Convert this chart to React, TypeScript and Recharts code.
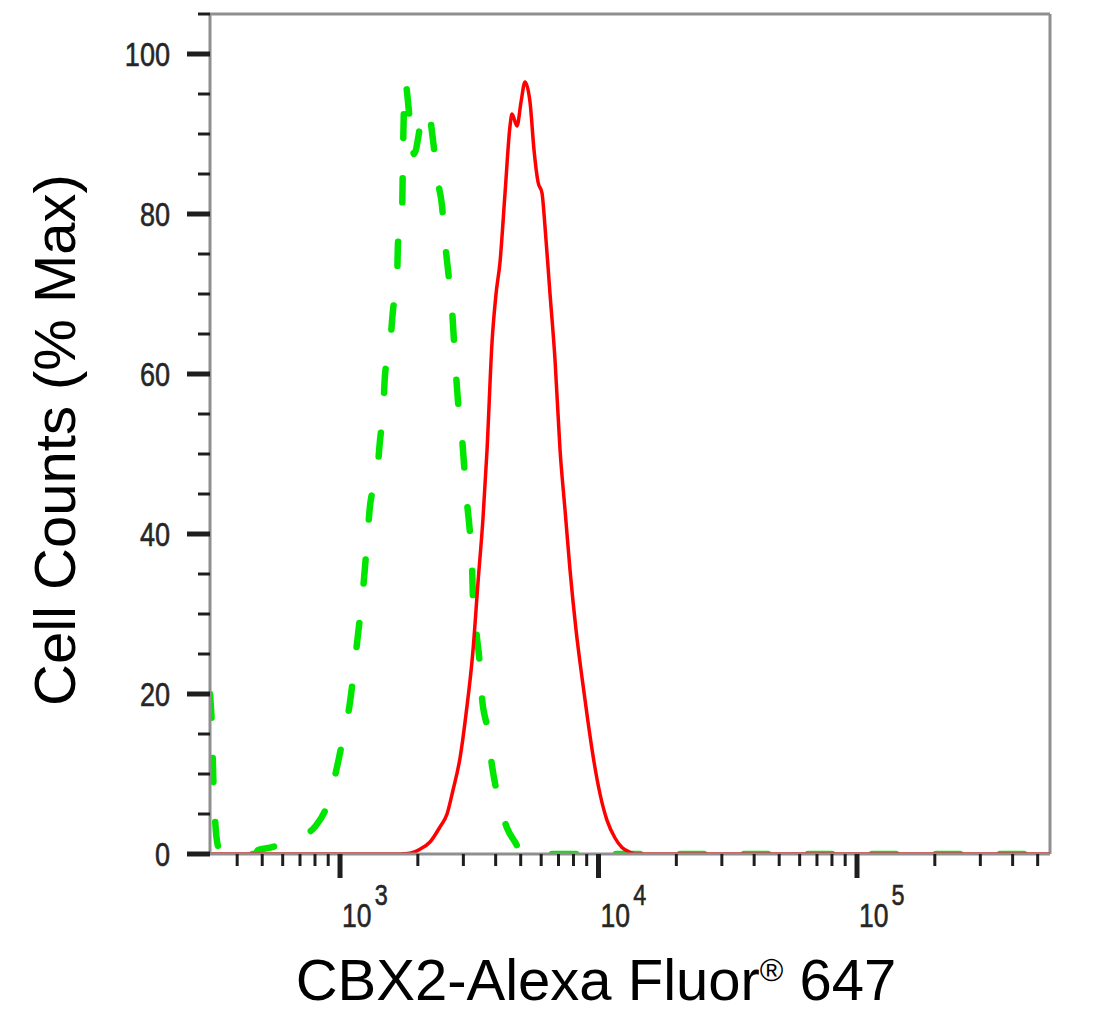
import { LineChart, Line, XAxis, YAxis, ReferenceLine } from 'recharts'

// isotype control (green dashed) – fluorescence intensity and % max
const isoIntensity = [
  314, 320, 323, 329, 337, 350, 469, 482, 536, 613,
  700, 800, 898, 974, 1027, 1093, 1123, 1174, 1227, 1272,
  1307, 1390, 1428, 1467, 1493, 1561, 1603, 1661, 1676, 1737,
  1753, 1784, 1866, 1933, 2076, 2189, 2290, 2373, 2481, 2548,
  2617, 2713, 2761, 2810, 2861, 2965, 3045, 3100, 3184, 3241,
  3270, 3388, 3480, 3542, 3704, 3873, 4050, 4426, 4753, 5105,
  558000,
]
const isoCounts = [
  20, 15, 10, 4, 1, 0, 0, 0.5, 0.8, 1.4,
  2.2, 3.4, 6.4, 10.9, 14.5, 19, 22, 27.5, 33, 39,
  43.6, 47.4, 51.75, 55.25, 59.9, 63.6, 68, 71.5, 76.4, 80,
  88, 96.5, 91.5, 87.5, 92, 93, 89.2, 84.6, 81, 76.5,
  73, 68, 64, 60, 56.5, 52, 47, 43.9, 40, 36,
  31.75, 27, 23.4, 19.5, 15.9, 11, 7.6, 3.25, 1.5, 0,
  0,
]

// CBX2 stained (red solid)
const cbx2Intensity = [
  314, 1428, 1707, 1866, 2039, 2229, 2437, 2594, 2736, 2912,
  3072, 3270, 3419, 3574, 3704, 3873, 4013, 4159, 4348, 4546,
  4628, 4838, 5014, 5195, 5432, 5629, 5834, 6046, 6209, 6492,
  6788, 7098, 7421, 7758, 8185, 8636, 9108, 9608, 10135, 10787,
  11583, 12327, 13244, 13972, 558000,
]
const cbx2Counts = [
  0, 0, 0, 0.1, 0.6, 1.5, 3.4, 5, 8, 12,
  17.5, 25.5, 34, 42, 50.5, 64, 70, 74, 82.6, 91,
  92.5, 91, 94, 96.5, 94, 88, 84, 82.6, 78.4, 70,
  61.75, 50.5, 43, 35.5, 28, 22, 16.5, 11.5, 7.5, 4.2,
  2, 0.8, 0.2, 0, 0,
]

const xMajorTicks = [1000, 10000, 100000]
const xMinorTicks = [
  400, 500, 600, 700, 800, 900,
  2000, 3000, 4000, 5000, 6000, 7000, 8000, 9000,
  20000, 30000, 40000, 50000, 60000, 70000, 80000, 90000,
  200000, 300000, 400000, 500000,
]
const yTicks = [0, 5, 10, 15, 20, 25, 30, 35, 40, 45, 50, 55, 60, 65, 70, 75, 80, 85, 90, 95, 100, 105]
const yLabelTicks = [0, 20, 40, 60, 80, 100]

const X_DOMAIN = [314, 558000]
const Y_DOMAIN = [0, 105]

const isoData = isoIntensity.map((x, i) => ({ x, y: isoCounts[i] }))
const cbx2Data = cbx2Intensity.map((x, i) => ({ x, y: cbx2Counts[i] }))
const xTicks = [...xMajorTicks, ...xMinorTicks].sort((a, b) => a - b)

const TICK_FONT = "'Liberation Sans', Arial, sans-serif"
const LABEL_FONT = "'Liberation Sans', Arial, Helvetica, sans-serif"
const AXIS_GRAY = '#8f8f8f'
const TICK_DARK = '#1e1e1e'
const TICK_TEXT = '#262626'

// narrow-looking tick numbers: squeeze regular Liberation Sans horizontally
function XTick(props: any) {
  const { x, y, payload } = props
  const v = payload.value
  if (xMajorTicks.includes(v)) {
    const exp = Math.round(Math.log10(v))
    return (
      <g>
        <line x1={x} x2={x} y1={y} y2={y + 24} stroke={TICK_DARK} strokeWidth={5} />
        <text
          transform={`translate(${x + 2} ${y + 73}) scale(0.78 1)`}
          x={0}
          y={0}
          fontFamily={TICK_FONT}
          fontSize={34}
          fill={TICK_TEXT}
          stroke={TICK_TEXT}
          strokeWidth={0.6}
        >
          10
          <tspan dx={4} dy={-22} fontSize={30}>{exp}</tspan>
        </text>
      </g>
    )
  }
  return <line x1={x} x2={x} y1={y} y2={y + 12} stroke={TICK_DARK} strokeWidth={3} />
}

function YTick(props: any) {
  const { x, y, payload } = props
  const v = payload.value
  if (yLabelTicks.includes(v)) {
    return (
      <g>
        <line x1={x - 23} x2={x} y1={y} y2={y} stroke={TICK_DARK} strokeWidth={5} />
        <text
          transform={`translate(${x - 40} ${y + 12}) scale(0.82 1)`}
          x={0}
          y={0}
          textAnchor="end"
          fontFamily={TICK_FONT}
          fontSize={33}
          fill={TICK_TEXT}
          stroke={TICK_TEXT}
          strokeWidth={0.6}
        >
          {v}
        </text>
      </g>
    )
  }
  return <line x1={x - 12} x2={x} y1={y} y2={y} stroke={TICK_DARK} strokeWidth={3} />
}

function YTitle(props: any) {
  const vb = props.viewBox || { x: 0, y: 0, width: 210, height: 840 }
  const cx = vb.x + 54
  const cy = vb.y + vb.height / 2 + 6
  return (
    <text
      x={cx}
      y={cy}
      transform={`rotate(-90 ${cx} ${cy})`}
      textAnchor="middle"
      dominantBaseline="central"
      fontFamily={LABEL_FONT}
      fontSize={58}
      fill="#000"
    >
      Cell Counts (% Max)
    </text>
  )
}

function XTitle(props: any) {
  const vb = props.viewBox || { x: 210, y: 854, width: 840, height: 177 }
  const cx = vb.x + vb.width / 2 - 34
  const base = vb.y + 146
  return (
    <text x={cx} y={base} textAnchor="middle" fontFamily={LABEL_FONT} fontSize={58} fill="#000">
      CBX2-Alexa Fluor
      <tspan fontSize={32} dy={-19}>®</tspan>
      <tspan dy={19}> 647</tspan>
    </text>
  )
}

export default function App() {
  return (
    <div style={{ position: 'absolute', left: 0, top: 0, background: '#fff' }}>
      <LineChart width={1102} height={1031} margin={{ top: 14, right: 52, bottom: 0, left: 0 }}>
        <XAxis
          type="number"
          dataKey="x"
          scale="log"
          domain={X_DOMAIN}
          allowDataOverflow
          ticks={xTicks}
          interval={0}
          tickSize={0}
          tickMargin={0}
          tickLine={false}
          tick={<XTick />}
          axisLine={{ stroke: AXIS_GRAY, strokeWidth: 3 }}
          height={177}
          label={{ content: <XTitle /> }}
        />
        <YAxis
          type="number"
          dataKey="y"
          domain={Y_DOMAIN}
          allowDataOverflow
          ticks={yTicks}
          interval={0}
          tickSize={0}
          tickMargin={0}
          tickLine={false}
          tick={<YTick />}
          axisLine={{ stroke: AXIS_GRAY, strokeWidth: 3 }}
          width={210}
          label={{ content: <YTitle /> }}
        />
        <ReferenceLine y={105} stroke={AXIS_GRAY} strokeWidth={3} />
        <ReferenceLine x={558000} stroke={AXIS_GRAY} strokeWidth={3} />
        <Line
          data={isoData}
          dataKey="y"
          type="monotone"
          stroke="#00e600"
          strokeWidth={6.5}
          strokeDasharray="24 40"
          strokeLinecap="round"
          dot={false}
          activeDot={false}
          isAnimationActive={false}
        />
        <Line
          data={cbx2Data}
          dataKey="y"
          type="monotone"
          stroke="#ff0000"
          strokeWidth={3.5}
          dot={false}
          activeDot={false}
          isAnimationActive={false}
        />
      </LineChart>
    </div>
  )
}
